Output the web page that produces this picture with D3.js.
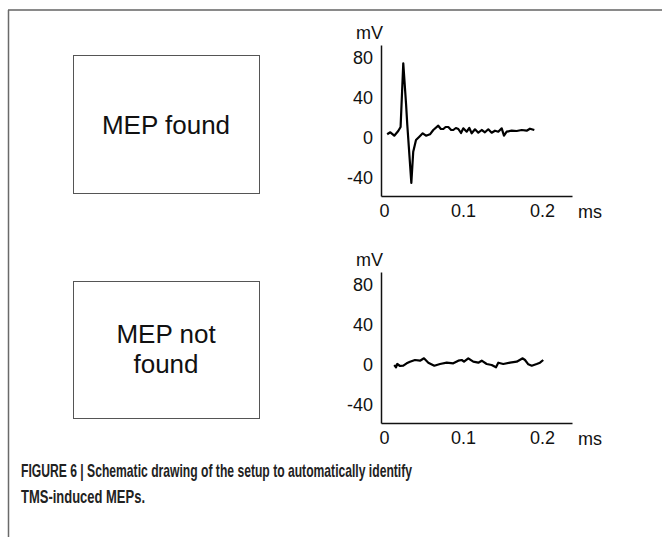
<!DOCTYPE html>
<html>
<head>
<meta charset="utf-8">
<script src="https://cdn.jsdelivr.net/npm/d3@7"></script>
<style>
  html, body { margin: 0; padding: 0; background: #ffffff; }
  svg { display: block; }
  text { font-family: "Liberation Sans", Arial, sans-serif; }
</style>
</head>
<body>
<script>
// ---------- data ----------
const boxLabels = [["MEP found"], ["MEP not", "found"]];

const yTicks = [80, 40, 0, -40];
const yTickLabels = ["80", "40", "0", "-40"];
const xTicks = [0, 0.1, 0.2];
const xTickLabels = ["0", "0.1", "0.2"];
const yUnit = "mV";
const xUnit = "ms";

// MEP found trace (time in ms, amplitude in mV)
const foundTime = [0.004, 0.008, 0.013, 0.018, 0.021, 0.0244, 0.028, 0.0295, 0.0346, 0.037,
  0.0405, 0.0447, 0.049, 0.0532, 0.0582, 0.0624, 0.0687, 0.072, 0.0751, 0.078,
  0.0814, 0.085, 0.0877, 0.091, 0.0941, 0.0975, 0.1004, 0.1047, 0.108, 0.111,
  0.1152, 0.1194, 0.1237, 0.1278, 0.132, 0.1363, 0.1405, 0.1447, 0.149, 0.1519,
  0.1553, 0.1616, 0.168, 0.1743, 0.1806, 0.1848, 0.1903];
const foundMv = [3.7, 5.7, 2.3, 7, 11, 74.7, 33, 13, -45, -13.7,
  -2, 1.3, 4.7, 2.3, 3.7, 8, 12.3, 9, 9, 11,
  11, 8, 8, 10, 9, 5, 9.7, 6.3, 10, 4.7,
  8.7, 5.3, 8, 5.7, 8.7, 5.3, 7.3, 6.3, 9.7, 2.3,
  6.3, 7.3, 7, 8, 7.3, 9.3, 8];

// MEP not found trace
const notFoundTime = [0.013, 0.0152, 0.0168, 0.0203, 0.0244, 0.0287, 0.0329, 0.0392, 0.0456, 0.0506,
  0.0561, 0.0637, 0.0709, 0.0794, 0.0877, 0.0941, 0.0984, 0.1013, 0.1067, 0.113,
  0.1194, 0.1237, 0.13, 0.1363, 0.1418, 0.1447, 0.151, 0.1595, 0.168, 0.1756,
  0.1785, 0.1827, 0.187, 0.1933, 0.1975, 0.2016];
const notFoundMv = [0, -2.3, 1, -1, -0.7, 1.7, 3.3, 5, 4.3, 6.7,
  2.3, -0.7, 1, 2.3, 1.7, 4.3, 5, 3.3, 6.7, 3.3,
  2.3, 4.3, 1, 0, -2.3, 2.3, 1, 2.3, 3.3, 6.7,
  5, 0.7, -0.7, 1, 2.3, 5];

const captionLines = [
  "FIGURE 6 | Schematic drawing of the setup to automatically identify",
  "TMS-induced MEPs."
];

// ---------- drawing ----------
const W = 662, H = 537;
const svg = d3.select("body").append("svg").attr("width", W).attr("height", H);

// outer frame (top & left)
svg.append("line").attr("x1", 8).attr("x2", W).attr("y1", 10).attr("y2", 10)
  .attr("stroke", "#8a8a8a").attr("stroke-width", 2);
svg.append("line").attr("x1", 8.5).attr("x2", 8.5).attr("y1", 10).attr("y2", H)
  .attr("stroke", "#6a6a6a").attr("stroke-width", 1.5);

const panels = [
  { dy: 0, time: foundTime, mv: foundMv, box: { x: 73.5, y: 55.5, w: 186, h: 138 }, labels: boxLabels[0], baseY: 133.5 },
  { dy: 227, time: notFoundTime, mv: notFoundMv, box: { x: 73.5, y: 281.5, w: 186, h: 137 }, labels: boxLabels[1], baseY: 342.5 }
];

panels.forEach(p => {
  // box
  svg.append("rect").attr("x", p.box.x).attr("y", p.box.y)
    .attr("width", p.box.w).attr("height", p.box.h)
    .attr("fill", "none").attr("stroke", "#555").attr("stroke-width", 1);
  p.labels.forEach((t, i) => {
    svg.append("text").attr("x", 166).attr("y", p.baseY + i * 30)
      .attr("text-anchor", "middle").attr("font-size", 26).attr("fill", "#111")
      .text(t);
  });

  const g = svg.append("g").attr("transform", `translate(0,${p.dy})`);
  const x = d3.scaleLinear().domain([-0.0038, 0.238]).range([381, 572]);
  const y = d3.scaleLinear().domain([-58, 93]).range([196, 45]);

  const yAxis = d3.axisLeft(y).tickValues(yTicks).tickSize(0).tickPadding(8)
    .tickFormat((d, i) => yTickLabels[i]);
  const ya = g.append("g").attr("transform", "translate(381,0)").call(yAxis);
  const xAxis = d3.axisBottom(x).tickValues(xTicks).tickSize(0).tickPadding(8)
    .tickFormat((d, i) => xTickLabels[i]);
  const xa = g.append("g").attr("transform", "translate(0,196)").call(xAxis);

  [ya, xa].forEach(a => {
    a.select(".domain").attr("stroke", "#111").attr("stroke-width", 1.5);
    a.selectAll("text").attr("font-size", 18).attr("fill", "#111")
      .attr("font-family", "'Liberation Sans', Arial, sans-serif");
  });

  g.append("text").attr("x", 356).attr("y", 39).attr("font-size", 18)
    .attr("fill", "#111").text(yUnit);
  g.append("text").attr("x", 578).attr("y", 218).attr("font-size", 18)
    .attr("fill", "#111").text(xUnit);

  const line = d3.line().x((d, i) => x(p.time[i])).y(d => y(d));
  g.append("path").datum(p.mv).attr("d", line)
    .attr("fill", "none").attr("stroke", "#000").attr("stroke-width", 2.2)
    .attr("stroke-linejoin", "round");
});

// caption
const capWidths = [391, 124];
captionLines.forEach((t, i) => {
  svg.append("text").attr("x", 21).attr("y", 477 + i * 26)
    .attr("font-family", "'Liberation Sans Narrow', 'Arial Narrow', 'DejaVu Sans Condensed', sans-serif")
    .attr("font-weight", "bold").attr("font-size", 19).attr("fill", "#222")
    .attr("textLength", capWidths[i]).attr("lengthAdjust", "spacingAndGlyphs")
    .text(t);
});
</script>
</body>
</html>
